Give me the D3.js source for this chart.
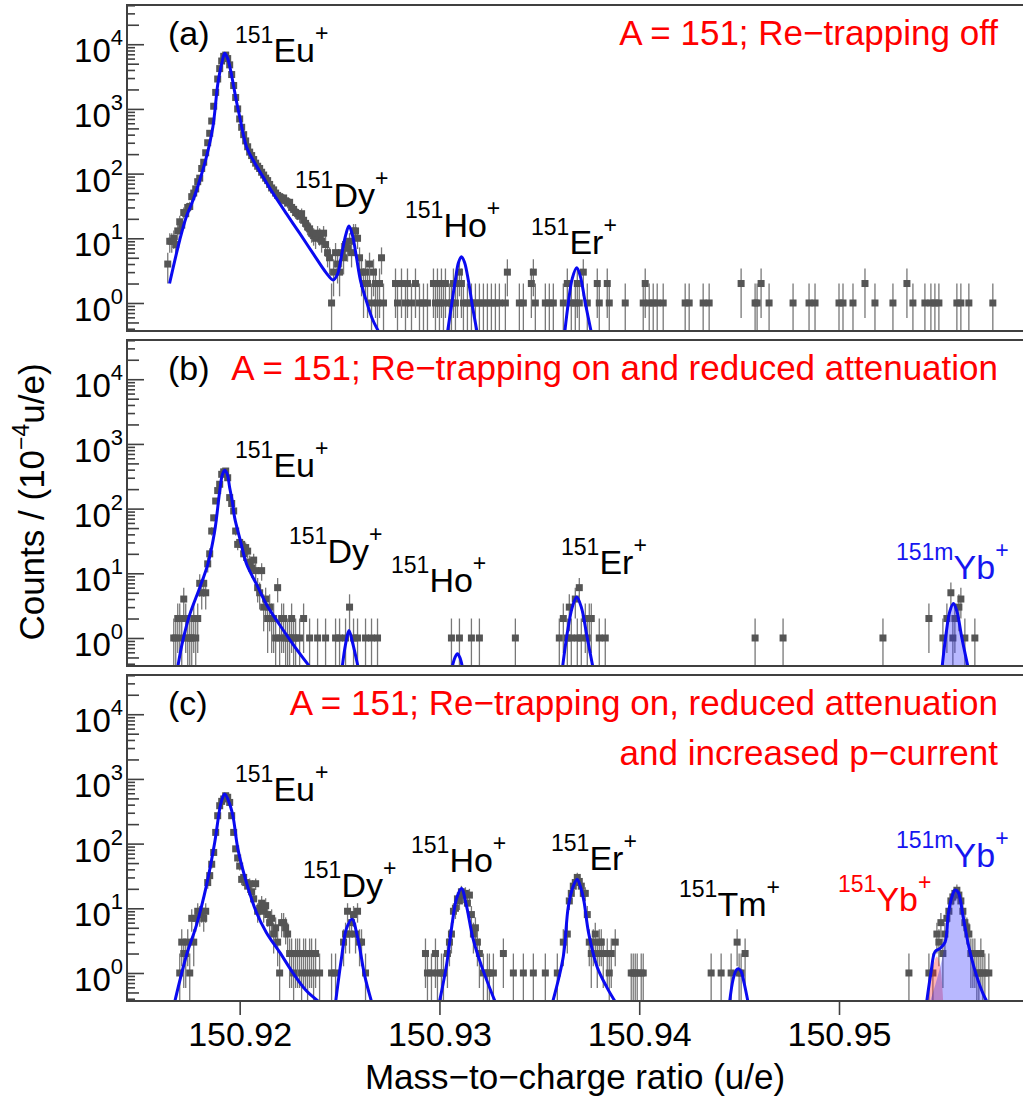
<!DOCTYPE html>
<html><head><meta charset="utf-8">
<script src="https://cdn.jsdelivr.net/npm/d3@7"></script>
<style>
html,body{margin:0;padding:0;background:#fff;}
svg{display:block;font-family:"Liberation Sans",Arial,Helvetica,sans-serif;}
</style></head><body>
<svg id="chart" width="1025" height="1101"></svg>
<script>
// ---------------- data ----------------
const xTickValues = [150.92, 150.93, 150.94, 150.95];
const xTickLabels = ["150.92", "150.93", "150.94", "150.95"];
const yTickExponents = [0, 1, 2, 3, 4];
const panelTags = ["(a)", "(b)", "(c)"];
const panelNotes = [
  ["A = 151; Re\u2212trapping off"],
  ["A = 151; Re\u2212trapping on and reduced attenuation"],
  ["A = 151; Re\u2212trapping on, reduced attenuation", "and increased p\u2212current"]
];

// histogram bins: [mass-to-charge (u/e), counts per 1e-4 u/e]
const countsA = [[150.9164,4],[150.9165,9],[150.9166,9],[150.9167,10],[150.9168,8],[150.9169,13],[150.9170,18],[150.9171,16],[150.9172,25],[150.9173,24],[150.9174,30],[150.9175,31],[150.9176,44],[150.9177,50],[150.9178,58],[150.9179,75],[150.9180,85],[150.9181,120],[150.9182,150],[150.9183,210],[150.9184,300],[150.9185,420],[150.9186,650],[150.9187,1100],[150.9188,1800],[150.9189,2900],[150.9190,4200],[150.9191,5500],[150.9192,6500],[150.9193,6800],[150.9194,6000],[150.9195,4800],[150.9196,3400],[150.9197,2300],[150.9198,1500],[150.9199,1000],[150.9200,700],[150.9201,520],[150.9202,400],[150.9203,320],[150.9204,260],[150.9205,215],[150.9206,190],[150.9207,165],[150.9208,145],[150.9209,130],[150.9210,120],[150.9211,105],[150.9212,95],[150.9213,85],[150.9214,78],[150.9215,68],[150.9216,60],[150.9217,56],[150.9218,50],[150.9219,46],[150.9220,44],[150.9221,40],[150.9222,42],[150.9223,38],[150.9224,35],[150.9225,36],[150.9226,30],[150.9227,28],[150.9228,25],[150.9229,24],[150.9230,22],[150.9231,24],[150.9232,19],[150.9233,17],[150.9234,15],[150.9235,14],[150.9236,12],[150.9237,11],[150.9238,10],[150.9239,12],[150.9240,11],[150.9241,9],[150.9242,12],[150.9243,8],[150.9244,6],[150.9245,5],[150.9246,1],[150.9247,3],[150.9248,6],[150.9249,4],[150.9250,3],[150.9251,6],[150.9252,5],[150.9253,8],[150.9254,7],[150.9255,9],[150.9256,6],[150.9257,13],[150.9258,13],[150.9259,10],[150.9260,5],[150.9261,3],[150.9262,2],[150.9263,3],[150.9264,2],[150.9265,4],[150.9266,1],[150.9267,3],[150.9268,2],[150.9269,1],[150.9270,2],[150.9271,5],[150.9272,1],
  [150.9278,2],[150.9279,1],[150.9281,2],[150.9283,1],[150.9284,2],[150.9286,1],[150.9288,2],[150.9290,1],[150.9292,1],[150.9294,1],[150.9297,2],[150.9298,1],[150.9299,2],[150.9300,1],[150.9301,2],[150.9302,1],[150.9303,2],[150.9305,1],[150.9306,1],[150.9307,2],[150.9308,1],[150.9309,2],[150.9310,3],[150.9311,2],[150.9312,1],[150.9314,1],[150.9316,1],[150.9318,1],[150.9320,1],[150.9322,1],[150.9324,1],[150.9326,1],[150.9328,1],[150.9330,1],[150.9333,1],[150.9334,3],[150.9340,1],[150.9342,1],[150.9346,2],[150.9347,3],[150.9348,1],[150.9353,1],[150.9355,1],[150.9357,1],[150.9362,1],[150.9364,2],[150.9366,1],[150.9368,1],[150.9369,2],[150.9370,1],[150.9372,3],[150.9374,1],[150.9379,2],[150.9380,1],[150.9384,2],[150.9385,1],[150.9393,1],[150.9402,1],[150.9403,2],[150.9405,1],[150.9407,1],[150.9409,1],[150.9412,1],[150.9423,1],[150.9425,1],[150.9432,1],[150.9435,1],[150.9451,2],[150.9458,1],[150.9459,1],[150.9461,2],[150.9465,1],[150.9477,1],[150.9485,1],[150.9488,1],[150.9500,1],[150.9502,1],[150.9507,1],[150.9513,2],[150.9518,1],[150.9527,1],[150.9534,2],[150.9537,1],[150.9543,1],[150.9546,1],[150.9548,1],[150.9550,1],[150.9559,1],[150.9561,1],[150.9565,1],[150.9577,1]];

const countsB = [[150.9167,1],[150.9168,1],[150.9169,2],[150.9170,2],[150.9171,1],[150.9172,4],[150.9173,2],[150.9174,1],[150.9175,1],[150.9176,1],[150.9177,2],[150.9178,1],[150.9179,2],[150.9180,7],[150.9181,5],[150.9182,7],[150.9183,5],[150.9184,14],[150.9185,20],[150.9186,45],[150.9187,72],[150.9188,131],[150.9189,190],[150.9190,238],[150.9191,339],[150.9192,370],[150.9193,381],[150.9194,300],[150.9195,148],[150.9196,120],[150.9197,92],[150.9198,45],[150.9199,28],[150.9200,30],[150.9201,28],[150.9202,20],[150.9203,25],[150.9204,22],[150.9205,15],[150.9206,12],[150.9207,16],[150.9208,11],[150.9209,6],[150.9210,5],[150.9211,11],[150.9212,3],[150.9213,4],[150.9214,2],[150.9215,3],[150.9216,2],[150.9217,2],[150.9218,1],[150.9219,6],[150.9220,1],[150.9221,2],[150.9222,2],[150.9223,1],[150.9224,1],[150.9225,1],[150.9226,2],[150.9227,1],[150.9228,1],[150.9230,1],[150.9232,2],[150.9235,1],[150.9239,1],[150.9243,1],[150.9248,1],[150.9250,1],[150.9253,1],[150.9255,3],[150.9257,1],[150.9259,1],[150.9263,1],[150.9266,1],[150.9269,1],[150.9306,1],[150.9310,1],[150.9316,1],[150.9320,1],[150.9338,1],[150.9360,1],[150.9362,2],[150.9364,1],[150.9365,3],[150.9366,1],[150.9368,4],[150.9369,1],[150.9370,6],[150.9371,1],[150.9373,2],[150.9374,1],[150.9375,2],[150.9376,2],[150.9380,1],[150.9383,1],[150.9458,1],[150.9472,1],[150.9522,1],[150.9545,2],[150.9552,1],[150.9554,2],[150.9556,5],[150.9557,1],[150.9558,2],[150.9560,3],[150.9561,4],[150.9563,1],[150.9568,1]];

const countsC = [[150.9170,1],[150.9171,3],[150.9172,2],[150.9173,2],[150.9174,3],[150.9175,1],[150.9176,7],[150.9177,3],[150.9178,7],[150.9179,9],[150.9180,8],[150.9181,9],[150.9182,7],[150.9183,9],[150.9184,25],[150.9185,32],[150.9186,48],[150.9187,73],[150.9188,149],[150.9189,270],[150.9190,385],[150.9191,450],[150.9192,490],[150.9193,550],[150.9194,520],[150.9195,433],[150.9196,270],[150.9197,149],[150.9198,83],[150.9199,60],[150.9200,45],[150.9201,28],[150.9202,30],[150.9203,25],[150.9204,22],[150.9205,24],[150.9206,18],[150.9207,14],[150.9208,24],[150.9209,9],[150.9210,10],[150.9211,12],[150.9212,9],[150.9213,11],[150.9214,8],[150.9215,6],[150.9216,7],[150.9217,4],[150.9218,5],[150.9219,3],[150.9220,1],[150.9221,6],[150.9222,6],[150.9223,5],[150.9224,4],[150.9225,2],[150.9226,2],[150.9227,1],[150.9228,2],[150.9229,2],[150.9230,2],[150.9231,1],[150.9232,2],[150.9233,2],[150.9234,1],[150.9235,2],[150.9236,2],[150.9237,1],[150.9238,2],[150.9240,1],[150.9246,1],[150.9248,1],[150.9252,3],[150.9253,4],[150.9254,9],[150.9255,4],[150.9256,6],[150.9257,8],[150.9258,4],[150.9259,9],[150.9260,3],[150.9261,3],[150.9263,1],[150.9293,2],[150.9294,1],[150.9296,1],[150.9298,2],[150.9299,1],[150.9301,1],[150.9302,1],[150.9304,2],[150.9305,3],[150.9306,4],[150.9307,9],[150.9308,10],[150.9309,14],[150.9310,13],[150.9311,18],[150.9312,16],[150.9313,17],[150.9314,12],[150.9315,16],[150.9316,8],[150.9317,4],[150.9318,5],[150.9319,3],[150.9320,2],[150.9322,1],[150.9324,1],[150.9325,1],[150.9327,1],[150.9332,2],[150.9337,1],[150.9342,1],[150.9347,1],[150.9353,1],[150.9359,1],[150.9362,3],[150.9364,4],[150.9365,13],[150.9366,17],[150.9367,22],[150.9368,25],[150.9369,30],[150.9370,26],[150.9371,22],[150.9372,17],[150.9373,17],[150.9374,8],[150.9375,3],[150.9376,2],[150.9377,3],[150.9378,4],[150.9379,2],[150.9380,3],[150.9381,3],[150.9382,2],[150.9384,2],[150.9385,1],[150.9386,2],[150.9388,3],[150.9396,1],[150.9397,1],[150.9398,1],[150.9399,1],[150.9401,1],[150.9402,1],[150.9436,1],[150.9441,1],[150.9446,1],[150.9449,3],[150.9450,1],[150.9451,1],[150.9453,2],[150.9535,1],[150.9545,1],[150.9547,1],[150.9549,4],[150.9550,3],[150.9551,6],[150.9552,2],[150.9553,4],[150.9554,7],[150.9555,9],[150.9556,13],[150.9557,15],[150.9558,17],[150.9559,19],[150.9560,16],[150.9561,13],[150.9562,9],[150.9563,6],[150.9564,5],[150.9565,4],[150.9566,2],[150.9567,2],[150.9568,2],[150.9569,1],[150.9570,1],[150.9571,2],[150.9572,1],[150.9573,1],[150.9575,1]];

// fitted line shapes, sampled: [mass-to-charge (u/e), counts]
const fitA_EuDy = [[150.91649,2.0],[150.91700,9.4],[150.91733,21.6],[150.91767,39],[150.91800,79],[150.91834,183],[150.91866,531],[150.91891,2485],[150.91910,5000],[150.91925,7230],[150.91940,6000],[150.91955,3900],[150.91968,2400],[150.91984,1300],[150.92000,757],[150.92017,420],[150.92034,261],[150.92067,162],[150.92117,89],[150.92167,49.6],[150.92234,24],[150.92300,12],[150.92367,5.85],[150.92434,2.9],[150.92467,2.27],[150.92490,2.8],[150.92510,5.5],[150.92530,11],[150.92547,15.5],[150.92565,11],[150.92585,5],[150.92605,2.2],[150.92635,1.05],[150.92666,0.55],[150.92710,0.3]];
const fitA_Ho = [[150.93040,0.35],[150.93060,0.9],[150.93080,2.3],[150.93095,4.2],[150.93110,5.2],[150.93125,4.3],[150.93145,2.2],[150.93165,0.9],[150.93190,0.33]];
const fitA_Er = [[150.93627,0.35],[150.93645,1.0],[150.93665,2.4],[150.93687,3.5],[150.93705,2.6],[150.93730,1.0],[150.93762,0.33]];

const fitB_Eu = [[150.91691,0.37],[150.91715,0.9],[150.91750,2.3],[150.91800,6],[150.91841,14],[150.91875,45],[150.91900,186],[150.91913,330],[150.91925,391],[150.91938,340],[150.91950,210],[150.91963,130],[150.91975,72],[150.92000,35.4],[150.92034,14],[150.92084,6.8],[150.92134,3.3],[150.92200,1.6],[150.92267,0.8],[150.92342,0.39],[150.92360,0.33]];
const fitB_Dy = [[150.92512,0.33],[150.92530,0.8],[150.92547,1.3],[150.92565,0.85],[150.92595,0.33]];
const fitB_Ho = [[150.93062,0.34],[150.93078,0.5],[150.93090,0.57],[150.93102,0.5],[150.93116,0.34]];
const fitB_Er = [[150.93615,0.33],[150.93640,1.2],[150.93665,3.0],[150.93687,4.3],[150.93710,3.0],[150.93740,1.0],[150.93770,0.33]];
const fitB_mYb = [[150.95515,0.33],[150.95535,1.1],[150.95555,2.6],[150.95573,3.4],[150.95590,2.6],[150.95615,1.0],[150.95648,0.33]];

const fitC_Eu = [[150.91675,0.36],[150.91733,1.85],[150.91783,5.4],[150.91833,22],[150.91875,104],[150.91903,385],[150.91915,520],[150.91925,584],[150.91945,450],[150.91966,270],[150.91991,83],[150.92034,25],[150.92084,8.6],[150.92134,4.2],[150.92200,2.1],[150.92267,1.0],[150.92334,0.53],[150.92392,0.37]];
const fitC_Dy = [[150.92481,0.37],[150.92509,1.64],[150.92534,4.8],[150.92562,6.8],[150.92592,3.35],[150.92626,0.9],[150.92659,0.37]];
const fitC_Ho = [[150.93001,0.37],[150.93035,1.3],[150.93060,4.8],[150.93085,13.9],[150.93110,20.3],[150.93135,11],[150.93168,3.4],[150.93210,1.3],[150.93277,0.37]];
const fitC_Er = [[150.93567,0.36],[150.93620,1.8],[150.93645,10.6],[150.93670,22],[150.93690,28],[150.93705,22],[150.93722,13.6],[150.93747,4.1],[150.93789,1.25],[150.93838,0.6],[150.93880,0.36]];
const fitC_Tm = [[150.94452,0.35],[150.94470,0.8],[150.94485,1.1],[150.94496,1.16],[150.94510,1.05],[150.94525,0.7],[150.94545,0.35]];
const fitC_YbSum = [[150.95439,0.36],[150.95460,1.0],[150.95481,2.15],[150.95506,2.4],[150.95531,3.0],[150.95547,8.2],[150.95564,14.7],[150.95581,19.2],[150.95597,17.6],[150.95622,7.2],[150.95647,2.8],[150.95681,1.08],[150.95722,0.47],[150.95739,0.37]];
const fitC_Yb = [[150.95439,0.36],[150.95464,1.0],[150.95489,1.8],[150.95506,1.3],[150.95522,0.36]];
const fitC_mYb = [[150.95456,0.36],[150.95490,0.8],[150.95515,1.6],[150.95531,3.0],[150.95547,8.2],[150.95564,14.7],[150.95581,19.2],[150.95597,17.6],[150.95622,7.2],[150.95647,2.8],[150.95681,1.08],[150.95722,0.47],[150.95739,0.37]];

// ---------------- layout & styles ----------------
const W = 1025, H = 1101;
const plotLeft = 127, plotRight = 1023;
const panelBoxes = [{top: 5, bottom: 331}, {top: 340, bottom: 666}, {top: 675, bottom: 1001}];
const yDomain = [0.369, 40400];
const frameColor = "#404040";
const markColor = "#555555";
const barColor = "#787878";
const fitColor = "#0a0af0";
const fillBlue = "rgba(40,40,255,0.33)";
const fillRed = "rgba(255,40,40,0.35)";

const BLUE = "#1616f0", RED = "#ff0000";
const peakLabels = [
  {p: 0, x: 235, y: 62, pre: "151", main: "Eu", color: "#000"},
  {p: 0, x: 295, y: 207, pre: "151", main: "Dy", color: "#000"},
  {p: 0, x: 405, y: 237, pre: "151", main: "Ho", color: "#000"},
  {p: 0, x: 531, y: 254, pre: "151", main: "Er", color: "#000"},
  {p: 1, x: 235, y: 477, pre: "151", main: "Eu", color: "#000"},
  {p: 1, x: 289, y: 563, pre: "151", main: "Dy", color: "#000"},
  {p: 1, x: 391, y: 592, pre: "151", main: "Ho", color: "#000"},
  {p: 1, x: 561, y: 574, pre: "151", main: "Er", color: "#000"},
  {p: 1, x: 896, y: 579, pre: "151m", main: "Yb", color: BLUE},
  {p: 2, x: 235, y: 801, pre: "151", main: "Eu", color: "#000"},
  {p: 2, x: 303, y: 897, pre: "151", main: "Dy", color: "#000"},
  {p: 2, x: 411, y: 872, pre: "151", main: "Ho", color: "#000"},
  {p: 2, x: 551, y: 870, pre: "151", main: "Er", color: "#000"},
  {p: 2, x: 679, y: 916, pre: "151", main: "Tm", color: "#000"},
  {p: 2, x: 838, y: 911, pre: "151", main: "Yb", color: RED},
  {p: 2, x: 896, y: 867, pre: "151m", main: "Yb", color: BLUE}
];

const panels = [
  {counts: countsA, fits: [fitA_EuDy, fitA_Ho, fitA_Er], fills: []},
  {counts: countsB, fits: [fitB_Eu, fitB_Dy, fitB_Ho, fitB_Er, fitB_mYb], fills: [{data: fitB_mYb, color: fillBlue}]},
  {counts: countsC, fits: [fitC_Eu, fitC_Dy, fitC_Ho, fitC_Er, fitC_Tm, fitC_YbSum], fills: [{data: fitC_Yb, color: fillRed}, {data: fitC_mYb, color: fillBlue}]}
];

// ---------------- drawing ----------------
const svg = d3.select("#chart");
svg.append("rect").attr("width", W).attr("height", H).attr("fill", "#fff");

const x = d3.scaleLinear().domain([150.91436, 150.95921]).range([plotLeft, plotRight]);
const defs = svg.append("defs");

panels.forEach((panel, i) => {
  const box = panelBoxes[i];
  const y = d3.scaleLog().domain(yDomain).range([box.bottom, box.top]);
  const g = svg.append("g");

  defs.append("clipPath").attr("id", "clip" + i)
    .append("rect").attr("x", plotLeft).attr("y", box.top)
    .attr("width", plotRight - plotLeft).attr("height", box.bottom - box.top);
  const plot = g.append("g").attr("clip-path", `url(#clip${i})`);

  // Poisson error bars
  plot.append("g").selectAll("line").data(panel.counts).join("line")
    .attr("x1", d => x(d[0])).attr("x2", d => x(d[0]))
    .attr("y1", d => { const lo = d[1] - Math.sqrt(d[1]); return lo > yDomain[0] ? y(lo) : box.bottom + 5; })
    .attr("y2", d => y(d[1] + Math.sqrt(d[1])))
    .attr("stroke", barColor).attr("stroke-width", 1.3);

  // markers
  plot.append("g").selectAll("rect").data(panel.counts).join("rect")
    .attr("x", d => x(d[0]) - 3.5).attr("y", d => y(d[1]) - 3.5)
    .attr("width", 7).attr("height", 7).attr("fill", markColor);

  const curve = d3.curveCatmullRom.alpha(0.5);
  // shaded components
  const area = d3.area().x(d => x(d[0])).y0(box.bottom + 2).y1(d => y(d[1])).curve(curve);
  plot.append("g").selectAll("path").data(panel.fills).join("path")
    .attr("d", f => area(f.data)).attr("fill", f => f.color).attr("stroke", "none");

  // fit curves
  const line = d3.line().x(d => x(d[0])).y(d => y(d[1])).curve(curve);
  plot.append("g").selectAll("path").data(panel.fits).join("path")
    .attr("d", line).attr("fill", "none").attr("stroke", fitColor)
    .attr("stroke-width", 3).attr("stroke-linejoin", "round");

  // y axis ticks (inward)
  const majors = yTickExponents.map(e => Math.pow(10, e));
  const minorLong = [], minorShort = [];
  for (let e = -1; e <= 4; e++) {
    for (let k = 2; k <= 9; k++) {
      const v = k * Math.pow(10, e);
      if (v < yDomain[0] || v > yDomain[1]) continue;
      (k === 2 || k === 5 ? minorLong : minorShort).push(v);
    }
  }
  const axisG = g.append("g").attr("transform", `translate(${plotLeft},0)`);
  [[majors, 17], [minorLong, 12], [minorShort, 8]].forEach(([vals, len]) => {
    axisG.append("g").call(d3.axisRight(y).tickValues(vals).tickSize(len).tickFormat(""))
      .call(a => a.select(".domain").remove())
      .call(a => a.selectAll("line").attr("stroke", frameColor).attr("stroke-width", 1.6));
  });

  // y tick labels 10^n
  yTickExponents.forEach(e => {
    const ty = y(Math.pow(10, e));
    const t = g.append("text").attr("x", 123).attr("y", ty + 18)
      .attr("text-anchor", "end").attr("fill", "#000");
    t.append("tspan").attr("font-size", 33).text("10");
    t.append("tspan").attr("font-size", 22).attr("dy", -17).text(String(e));
  });

  // frame
  g.append("line").attr("x1", plotLeft).attr("x2", plotRight).attr("y1", box.top).attr("y2", box.top)
    .attr("stroke", frameColor).attr("stroke-width", 2);
  g.append("line").attr("x1", plotLeft).attr("x2", plotRight).attr("y1", box.bottom).attr("y2", box.bottom)
    .attr("stroke", frameColor).attr("stroke-width", 2);
  g.append("line").attr("x1", plotLeft).attr("x2", plotLeft).attr("y1", box.top - 1).attr("y2", box.bottom + 1)
    .attr("stroke", frameColor).attr("stroke-width", 2);

  // panel tag and run condition
  g.append("text").attr("x", 168).attr("y", box.top + 40).attr("font-size", 34).attr("fill", "#000").text(panelTags[i]);
  panelNotes[i].forEach((s, k) => {
    g.append("text").attr("x", 998).attr("y", box.top + 39.5 + k * 50)
      .attr("text-anchor", "end").attr("font-size", 35).attr("fill", RED).text(s);
  });
});

// peak labels
peakLabels.forEach(l => {
  const t = svg.append("text").attr("x", l.x).attr("y", l.y).attr("fill", l.color);
  t.append("tspan").attr("font-size", 23).attr("dy", -19).text(l.pre);
  t.append("tspan").attr("font-size", 34).attr("dy", 19).text(l.main);
  t.append("tspan").attr("font-size", 23).attr("dy", -21).text("+");
});

// x axis on the bottom panel
const xAxisG = svg.append("g").attr("transform", `translate(0,${panelBoxes[2].bottom})`)
  .call(d3.axisBottom(x).tickValues(xTickValues).tickSize(14).tickPadding(7)
    .tickFormat((d, i) => xTickLabels[i]));
xAxisG.select(".domain").remove();
xAxisG.selectAll("line").attr("stroke", frameColor).attr("stroke-width", 1.6);
xAxisG.selectAll("text").attr("font-size", 34).attr("fill", "#000")
  .attr("font-family", "'Liberation Sans', Arial, sans-serif");

// axis titles
svg.append("text").attr("x", (plotLeft + plotRight) / 2).attr("y", 1089)
  .attr("text-anchor", "middle").attr("font-size", 35).attr("fill", "#000")
  .text("Mass\u2212to\u2212charge ratio (u/e)");

const yTitle = svg.append("text").attr("transform", "translate(44,502) rotate(-90)")
  .attr("text-anchor", "middle").attr("font-size", 35).attr("fill", "#000");
yTitle.append("tspan").text("Counts / (10");
yTitle.append("tspan").attr("font-size", 23).attr("dy", -15).text("\u22124");
yTitle.append("tspan").attr("dy", 15).text("u/e)");
</script>
</body></html>
